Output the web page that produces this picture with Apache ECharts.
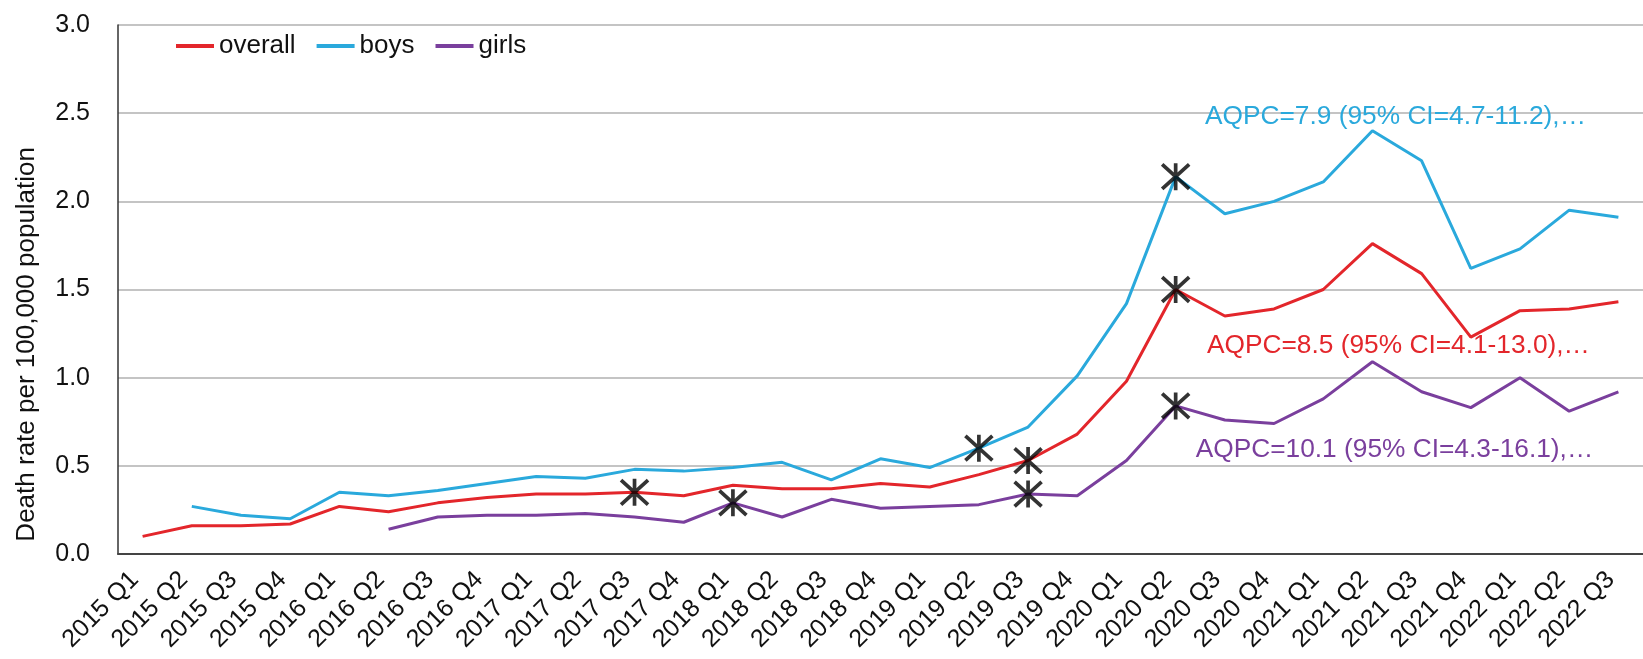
<!DOCTYPE html>
<html>
<head>
<meta charset="utf-8">
<script src="https://cdn.jsdelivr.net/npm/echarts@6/dist/echarts.min.js"></script>
<style>
  html, body { margin: 0; padding: 0; background: #fff; }
  #chart { width: 1643px; height: 659px; }
</style>
</head>
<body>
<div id="chart"></div>
<script>
// Quarterly death rate per 100,000 population
const quarters = [
  '2015 Q1', '2015 Q2', '2015 Q3', '2015 Q4',
  '2016 Q1', '2016 Q2', '2016 Q3', '2016 Q4',
  '2017 Q1', '2017 Q2', '2017 Q3', '2017 Q4',
  '2018 Q1', '2018 Q2', '2018 Q3', '2018 Q4',
  '2019 Q1', '2019 Q2', '2019 Q3', '2019 Q4',
  '2020 Q1', '2020 Q2', '2020 Q3', '2020 Q4',
  '2021 Q1', '2021 Q2', '2021 Q3', '2021 Q4',
  '2022 Q1', '2022 Q2', '2022 Q3'
];

const overall = [
  0.10, 0.16, 0.16, 0.17,
  0.27, 0.24, 0.29, 0.32,
  0.34, 0.34, 0.35, 0.33,
  0.39, 0.37, 0.37, 0.40,
  0.38, 0.45, 0.53, 0.68,
  0.98, 1.50, 1.35, 1.39,
  1.50, 1.76, 1.59, 1.23,
  1.38, 1.39, 1.43
];

const boys = [
  null, 0.27, 0.22, 0.20,
  0.35, 0.33, 0.36, 0.40,
  0.44, 0.43, 0.48, 0.47,
  0.49, 0.52, 0.42, 0.54,
  0.49, 0.60, 0.72, 1.01,
  1.42, 2.14, 1.93, 2.00,
  2.11, 2.40, 2.23, 1.62,
  1.73, 1.95, 1.91
];

const girls = [
  null, null, null, null,
  null, 0.14, 0.21, 0.22,
  0.22, 0.23, 0.21, 0.18,
  0.29, 0.21, 0.31, 0.26,
  0.27, 0.28, 0.34, 0.33,
  0.53, 0.84, 0.76, 0.74,
  0.88, 1.09, 0.92, 0.83,
  1.00, 0.81, 0.92
];

// Joinpoints (trend change quarters) for each series
const overallJoins = ['2017 Q3', '2019 Q3', '2020 Q2'];
const boysJoins = ['2019 Q2', '2020 Q2'];
const girlsJoins = ['2018 Q1', '2019 Q3', '2020 Q2'];

// Average quarterly percent change notes
const overallNote = 'AQPC=8.5 (95% CI=4.1-13.0),…';
const boysNote = 'AQPC=7.9 (95% CI=4.7-11.2),…';
const girlsNote = 'AQPC=10.1 (95% CI=4.3-16.1),…';

const yTicks = [0, 0.5, 1.0, 1.5, 2.0, 2.5, 3.0];

const FONT = '"Liberation Sans", Arial, Helvetica, sans-serif';
const RED = '#E3262B';
const BLUE = '#2AA9DC';
const PURPLE = '#7A3F9D';

const STAR = 'path://M0,0 L20,20 M20,0 L0,20 M10,-1 L10,21';

function joinPoints(values, joins) {
  return joins.map(q => [q, values[quarters.indexOf(q)]]);
}

function note(text, color, anchor, dx) {
  return {
    symbol: 'circle',
    symbolSize: 1,
    itemStyle: { color: 'rgba(0,0,0,0)' },
    data: [{
      coord: anchor,
      label: {
        show: true,
        position: 'inside',
        offset: [dx, 0],
        formatter: text,
        color: color,
        fontFamily: FONT,
        fontSize: 26.3
      }
    }],
    silent: true
  };
}

function lineSeries(name, values, color, mark) {
  return {
    name: name,
    type: 'line',
    data: values,
    showSymbol: false,
    symbol: 'none',
    lineStyle: { color: color, width: 3 },
    itemStyle: { color: color },
    connectNulls: false,
    z: 3,
    markPoint: mark
  };
}

function starSeries(values, joins) {
  return {
    type: 'scatter',
    data: joinPoints(values, joins),
    symbol: STAR,
    symbolSize: 27,
    itemStyle: { color: 'rgba(0,0,0,0)', borderColor: '#000', borderWidth: 3.7 },
    z: 5,
    silent: true
  };
}

const chart = echarts.init(document.getElementById('chart'), null, { renderer: 'canvas' });

chart.setOption({
  animation: false,
  backgroundColor: '#fff',
  textStyle: { fontFamily: FONT },
  grid: { left: 118, top: 25, width: 1540, height: 529, containLabel: false },
  legend: {
    data: ['overall', 'boys', 'girls'],
    left: 171,
    top: 28,
    icon: 'rect',
    itemWidth: 38,
    itemHeight: 3.8,
    itemGap: 21,
    textStyle: { fontFamily: FONT, fontSize: 26, color: '#111' }
  },
  xAxis: {
    type: 'category',
    data: quarters,
    boundaryGap: true,
    axisLine: { lineStyle: { color: '#444', width: 2 } },
    axisTick: { show: false },
    axisLabel: {
      rotate: 45,
      interval: 0,
      margin: 14,
      padding: [0, 11, 0, 0],
      fontFamily: FONT,
      fontSize: 25,
      color: '#111'
    },
    splitLine: { show: false }
  },
  yAxis: {
    type: 'value',
    min: yTicks[0],
    max: yTicks[yTicks.length - 1],
    interval: 0.5,
    axisLine: { show: true, lineStyle: { color: '#333', width: 1.5 } },
    axisTick: { show: false },
    axisLabel: {
      margin: 28,
      fontFamily: FONT,
      fontSize: 25,
      color: '#111',
      formatter: v => v.toFixed(1)
    },
    splitLine: { lineStyle: { color: '#C4C4C4', width: 1.8 } }
  },
  graphic: [{
    type: 'text',
    left: 14,
    top: 147,
    rotation: Math.PI / 2,
    style: {
      text: 'Death rate per 100,000 population',
      fontFamily: FONT,
      fontSize: 26,
      fill: '#111'
    }
  }],
  series: [
    lineSeries('overall', overall, RED, note(overallNote, RED, ['2021 Q2', 1.18], 26)),
    lineSeries('boys', boys, BLUE, note(boysNote, BLUE, ['2021 Q2', 2.48], 23)),
    lineSeries('girls', girls, PURPLE, note(girlsNote, PURPLE, ['2021 Q2', 0.59], 22)),
    starSeries(overall, overallJoins),
    starSeries(boys, boysJoins),
    starSeries(girls, girlsJoins)
  ]
});
</script>
</body>
</html>
